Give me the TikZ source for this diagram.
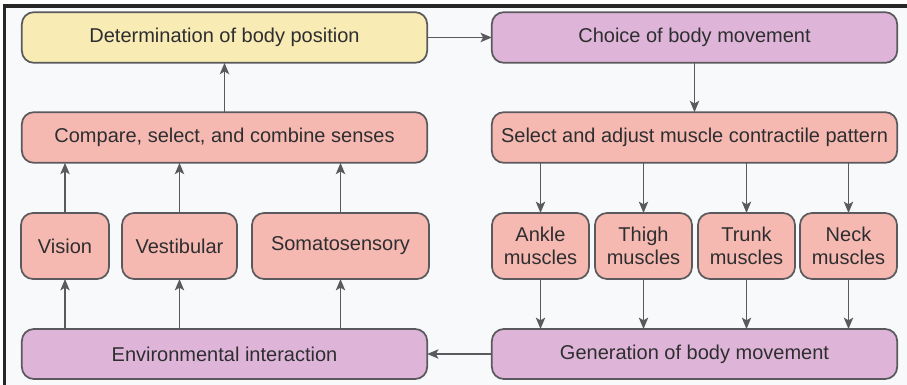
\documentclass[tikz,border=0pt]{standalone}
\usepackage{fontspec}
\setmainfont{Liberation Sans}
\usetikzlibrary{arrows.meta}
\definecolor{boxyellow}{HTML}{F8EBB4}
\definecolor{boxpink}{HTML}{F6B9B1}
\definecolor{boxpurple}{HTML}{DEB5D8}
\definecolor{boxline}{HTML}{5A5A5E}
\definecolor{txtdark}{HTML}{2E2E30}
\definecolor{bgpaper}{HTML}{F8F9FA}
\tikzset{
	box/.style={draw=boxline,line width=1.3pt,rounded corners=9pt,outer sep=0pt,inner sep=2pt,
		text=txtdark,align=center,font=\fontsize{15}{16.8}\selectfont},
	wide/.style={box,minimum width=304pt,minimum height=38pt},
	sense/.style={box,fill=boxpink,minimum height=49.5pt},
	musc/.style={box,fill=boxpink,minimum width=72.75pt,minimum height=49.5pt},
	arr/.style={draw=boxline,line width=1.1pt,-{Stealth[length=8.5pt,width=7pt,inset=2pt]}},
}
\begin{document}
\begin{tikzpicture}[x=0.75pt,y=-0.75pt]
	\useasboundingbox (0,0) rectangle (907,385);
	\fill [bgpaper](4.5,6)rectangle(907,385);
	\draw [black!85,line width=2.3pt](4.5,385)--(4.5,6)--(907,6);
	
	% top row
	\node (det) at(224.5,37.5)[wide,fill=boxyellow]{Determination of body position};
	\node (cho) at(694.5,37.5)[wide,fill=boxpurple]{Choice of body movement};
	
	% second row
	\node (cmp) at(224.5,137.5)[wide,fill=boxpink]{Compare, select, and combine senses};
	\node (sel) at(694.5,137.5)[wide,fill=boxpink]{Select and adjust muscle contractile pattern};
	
	% senses
	\node (vis) at(65,246)[sense,minimum width=66pt]{Vision};
	\node (ves) at(179.5,246)[sense,minimum width=86.25pt]{Vestibular};
	\node (som) at(340.5,246)[sense,minimum width=132.75pt]{Somatosensory};
	
	% muscles
	\node (ank) at(540.5,246)[musc]{Ankle\\muscles};
	\node (thi) at(643.5,246)[musc]{Thigh\\muscles};
	\node (tru) at(746.5,246)[musc]{Trunk\\muscles};
	\node (nec) at(848.5,246)[musc]{Neck\\muscles};
	
	% bottom row
	\node (env) at(224.5,354)[wide,fill=boxpurple,minimum height=37.5pt]{Environmental interaction};
	\node (gen) at(694.5,354)[wide,fill=boxpurple,minimum height=37.5pt]{Generation of body movement};
	
	\draw [arr](det.east)--(cho.west);
	\draw [arr](cho.south)--(sel.north);
	\draw [arr](cmp.north)--(det.south);
	\draw [arr](gen.west)--(env.east);
	
	\foreach \s in {vis,ves,som}{
		\draw [arr](env.north-|\s)--(\s.south);
		\draw [arr](\s.north)--(cmp.south-|\s);
	}
	\foreach \m in {ank,thi,tru,nec}{
		\draw [arr](sel.south-|\m)--(\m.north);
		\draw [arr](\m.south)--(gen.north-|\m);
	}
\end{tikzpicture}
\end{document}
